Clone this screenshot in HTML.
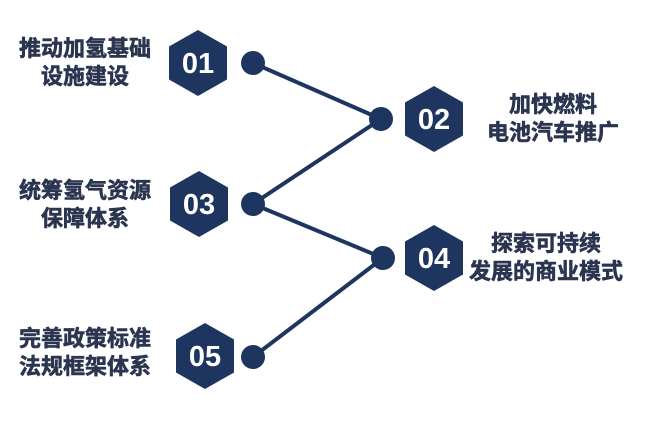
<!DOCTYPE html>
<html><head><meta charset="utf-8"><style>
body{margin:0;background:#fff;width:659px;height:419px;overflow:hidden}
svg text{font-family:"Liberation Sans","Noto Sans CJK SC",sans-serif;font-weight:bold}
</style></head><body>
<svg width="659" height="419" viewBox="0 0 659 419">
<defs>
<polygon id="hx" points="0,-33 29,-16.5 29,16.5 0,33 -29,16.5 -29,-16.5" fill="#1e3560"/>
</defs>
<g stroke="#1e3560" stroke-width="4" fill="none">
<line x1="253" y1="63" x2="381" y2="119"/>
<line x1="253" y1="204" x2="381" y2="119"/>
<line x1="253" y1="204" x2="383" y2="258"/>
<line x1="253" y1="357" x2="383" y2="258"/>
</g>
<g fill="#1e3560">
<circle cx="253" cy="63" r="12"/><circle cx="381" cy="119" r="12"/>
<circle cx="253" cy="204" r="12"/><circle cx="383" cy="258" r="12"/>
<circle cx="253" cy="357" r="12"/>
</g>
<use href="#hx" x="198" y="63"/><use href="#hx" x="434" y="119"/>
<use href="#hx" x="199" y="204"/><use href="#hx" x="434" y="258"/>
<use href="#hx" x="205" y="356"/>
<g fill="#fff" font-size="29" text-anchor="middle">
<text x="198" y="73">01</text><text x="434" y="129">02</text>
<text x="199" y="214">03</text><text x="434" y="268">04</text>
<text x="205" y="366">05</text>
</g>
<g fill="#2b3550" stroke="#2b3550" stroke-width="0.6" font-size="22" text-anchor="middle">
<text x="85" y="56">推动加氢基础</text><text x="85" y="84">设施建设</text>
<text x="553" y="112">加快燃料</text><text x="553" y="140">电池汽车推广</text>
<text x="85" y="198">统筹氢气资源</text><text x="85" y="226">保障体系</text>
<text x="546" y="251">探索可持续</text><text x="546" y="279">发展的商业模式</text>
<text x="85" y="346">完善政策标准</text><text x="85" y="374">法规框架体系</text>
</g>
</svg>
</body></html>
